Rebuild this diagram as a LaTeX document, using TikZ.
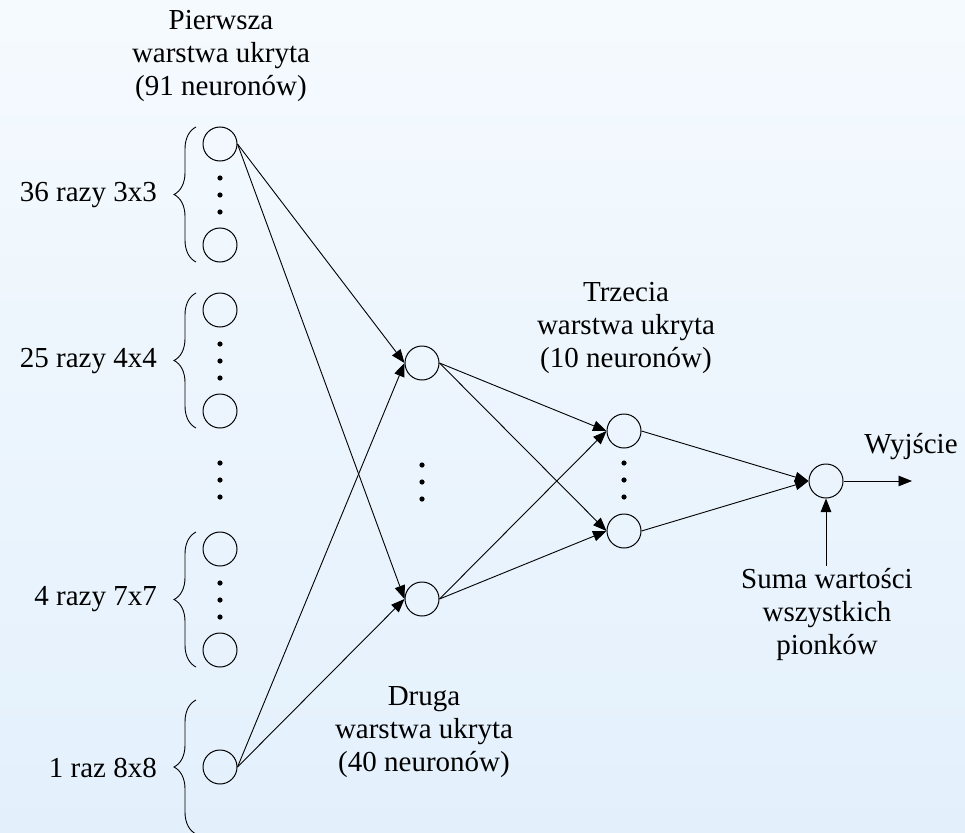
\documentclass[tikz,border=0pt]{standalone}
\usepackage{fontspec}
\setmainfont{Liberation Serif}
\usetikzlibrary{arrows.meta,decorations.pathreplacing}
\definecolor{bgtop}{RGB}{245,250,254}
\definecolor{bgbot}{RGB}{227,240,252}
\begin{document}
\begin{tikzpicture}[x=1pt,y=-1pt,
  neuron/.style={circle,draw,line width=1pt,minimum size=34pt,inner sep=0pt},
  arr/.style={line width=0.9pt,-{Triangle[length=13.5pt,width=10.5pt]}},
  lbl/.style={font=\fontsize{29}{33}\selectfont,inner sep=0pt},
  mlbl/.style={lbl,align=center},
  grp/.style={decorate,line width=0.9pt,decoration={brace,amplitude=22pt}},
  dot/.style={fill=black}]
% background
\shade[top color=bgtop,bottom color=bgbot] (0,0) rectangle (965,832);
\useasboundingbox (0,0) rectangle (965,832);

% first hidden layer
\node[neuron] (c1) at (220,144) {};
\node[neuron] (c2) at (220,245) {};
\node[neuron] (c3) at (220,310) {};
\node[neuron] (c4) at (220,411) {};
\node[neuron] (c5) at (220,549) {};
\node[neuron] (c6) at (220,650) {};
\node[neuron] (c7) at (220,767) {};
\foreach \y in {178,195,212, 344,361,378, 463,480,497, 583,600,617}
  \fill[dot] (220,\y) circle (2.6);

% group braces
\draw[grp] (196,262) -- (196,127);
\draw[grp] (196,428) -- (196,293);
\draw[grp] (196,667) -- (196,532);
\draw[grp] (196,834) -- (196,700);

\node[lbl,anchor=base east] (g1) at (157,201) {36 razy 3x3};
\node[lbl,anchor=base east] (g2) at (157,367) {25 razy 4x4};
\node[lbl,anchor=base east] (g3) at (157,605) {4 razy 7x7};
\node[lbl,anchor=base east] (g4) at (157,777) {1 raz 8x8};

% second hidden layer
\node[neuron] (h1) at (422,363) {};
\node[neuron] (h2) at (422,599) {};
\foreach \y in {465,482,499}
  \fill[dot] (422,\y) circle (2.6);

% third hidden layer
\node[neuron] (t1) at (624,431) {};
\node[neuron] (t2) at (624,531) {};
\foreach \y in {463,480,497}
  \fill[dot] (624,\y) circle (2.6);

% output neuron
\node[neuron] (out) at (826,481) {};
\coordinate (outend) at (912,481);
\coordinate (sumtop) at (826,566);

% layer titles
\node[mlbl] (l1) at (221,56) {Pierwsza\\warstwa ukryta\\(91 neuronów)};
\node[mlbl] (l2) at (424,732) {Druga\\warstwa ukryta\\(40 neuronów)};
\node[mlbl] (l3) at (626,328) {Trzecia\\warstwa ukryta\\(10 neuronów)};
\node[mlbl] (sum) at (827,614) {Suma wartości\\wszystkich\\pionków};
\node[lbl,anchor=base] (wy) at (911,453) {Wyjście};

% connections
\draw[arr] (c1.east) -- (h1.west);
\draw[arr] (c1.east) -- (h2.west);
\draw[arr] (c7.east) -- (h1.west);
\draw[arr] (c7.east) -- (h2.west);
\draw[arr] (h1.east) -- (t1.west);
\draw[arr] (h1.east) -- (t2.west);
\draw[arr] (h2.east) -- (t1.west);
\draw[arr] (h2.east) -- (t2.west);
\draw[arr] (t1.east) -- (out.west);
\draw[arr] (t2.east) -- (out.west);
\draw[arr] (out.east) -- (outend);
\draw[arr] (sumtop) -- (out.south);
\end{tikzpicture}
\end{document}
